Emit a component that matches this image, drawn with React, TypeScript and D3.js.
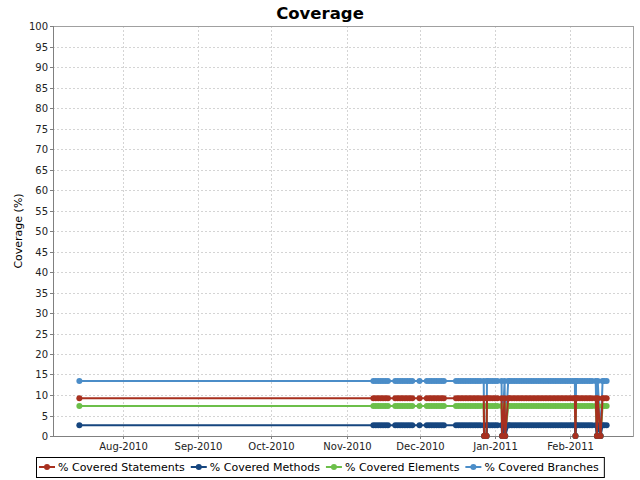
import React, { useEffect, useRef } from 'react';
import * as d3 from 'd3';

// build timestamps: one early build, then near-daily builds from mid November
const buildDates = [
  "2010-07-14",
  "2010-11-12", "2010-11-13", "2010-11-14", "2010-11-15", "2010-11-16", "2010-11-17", "2010-11-18", "2010-11-21", "2010-11-22", "2010-11-23", "2010-11-24", "2010-11-25", "2010-11-26", "2010-11-27", "2010-11-28",
  "2010-12-01", "2010-12-04", "2010-12-05", "2010-12-06", "2010-12-07", "2010-12-08", "2010-12-09", "2010-12-10", "2010-12-11",
  "2010-12-16", "2010-12-17", "2010-12-18", "2010-12-19", "2010-12-20", "2010-12-21", "2010-12-22", "2010-12-23", "2010-12-24", "2010-12-25", "2010-12-26",
  "2010-12-27T10:00", "2010-12-27T14:00", "2010-12-28T14:00", "2010-12-28T18:00", "2010-12-29", "2010-12-30", "2010-12-31",
  "2011-01-01", "2011-01-02", "2011-01-03T18:00", "2011-01-04T00:00", "2011-01-05T00:00", "2011-01-05T06:00", "2011-01-06T12:00",
  "2011-01-07", "2011-01-08", "2011-01-09", "2011-01-10", "2011-01-11", "2011-01-12", "2011-01-13", "2011-01-14", "2011-01-15", "2011-01-16", "2011-01-17", "2011-01-18", "2011-01-19",
  "2011-01-20", "2011-01-21", "2011-01-22", "2011-01-23", "2011-01-24", "2011-01-25", "2011-01-26", "2011-01-27", "2011-01-28", "2011-01-29", "2011-01-30", "2011-01-31",
  "2011-02-01", "2011-02-02", "2011-02-02T22:00", "2011-02-03T04:00", "2011-02-03T10:00",
  "2011-02-04", "2011-02-05", "2011-02-06", "2011-02-07", "2011-02-08", "2011-02-09", "2011-02-10",
  "2011-02-11T12:00", "2011-02-12T00:00", "2011-02-12T08:00", "2011-02-13T12:00", "2011-02-14T08:00", "2011-02-15", "2011-02-16",
];

const statements = [
  9.2,
  9.2, 9.2, 9.2, 9.2, 9.2, 9.2, 9.2, 9.2, 9.2, 9.2, 9.2, 9.2, 9.2, 9.2, 9.2,
  9.2, 9.2, 9.2, 9.2, 9.2, 9.2, 9.2, 9.2, 9.2,
  9.2, 9.2, 9.2, 9.2, 9.2, 9.2, 9.2, 9.2, 9.2, 9.2, 9.2,
  9.2, 0, 0, 9.2, 9.2, 9.2, 9.2,
  9.2, 9.2, 9.2, 0, 9.2, 0, 9.2,
  9.2, 9.2, 9.2, 9.2, 9.2, 9.2, 9.2, 9.2, 9.2, 9.2, 9.2, 9.2, 9.2,
  9.2, 9.2, 9.2, 9.2, 9.2, 9.2, 9.2, 9.2, 9.2, 9.2, 9.2, 9.2,
  9.2, 9.2, 9.2, 0, 9.2,
  9.2, 9.2, 9.2, 9.2, 9.2, 9.2, 9.2,
  9.2, 0, 9.2, 0, 9.2, 9.2, 9.2,
];

const methods = [
  2.6,
  2.6, 2.6, 2.6, 2.6, 2.6, 2.6, 2.6, 2.6, 2.6, 2.6, 2.6, 2.6, 2.6, 2.6, 2.6,
  2.6, 2.6, 2.6, 2.6, 2.6, 2.6, 2.6, 2.6, 2.6,
  2.6, 2.6, 2.6, 2.6, 2.6, 2.6, 2.6, 2.6, 2.6, 2.6, 2.6,
  2.6, 0, 0, 2.6, 2.6, 2.6, 2.6,
  2.6, 2.6, 2.6, 0, 2.6, 0, 2.6,
  2.6, 2.6, 2.6, 2.6, 2.6, 2.6, 2.6, 2.6, 2.6, 2.6, 2.6, 2.6, 2.6,
  2.6, 2.6, 2.6, 2.6, 2.6, 2.6, 2.6, 2.6, 2.6, 2.6, 2.6, 2.6,
  2.6, 2.6, 2.6, 0, 2.6,
  2.6, 2.6, 2.6, 2.6, 2.6, 2.6, 2.6,
  2.6, 0, 2.6, 0, 2.6, 2.6, 2.6,
];

const elements = [
  7.3,
  7.3, 7.3, 7.3, 7.3, 7.3, 7.3, 7.3, 7.3, 7.3, 7.3, 7.3, 7.3, 7.3, 7.3, 7.3,
  7.3, 7.3, 7.3, 7.3, 7.3, 7.3, 7.3, 7.3, 7.3,
  7.3, 7.3, 7.3, 7.3, 7.3, 7.3, 7.3, 7.3, 7.3, 7.3, 7.3,
  7.3, 0, 0, 7.3, 7.3, 7.3, 7.3,
  7.3, 7.3, 7.3, 0, 7.3, 0, 7.3,
  7.3, 7.3, 7.3, 7.3, 7.3, 7.3, 7.3, 7.3, 7.3, 7.3, 7.3, 7.3, 7.3,
  7.3, 7.3, 7.3, 7.3, 7.3, 7.3, 7.3, 7.3, 7.3, 7.3, 7.3, 7.3,
  7.3, 7.3, 7.3, 0, 7.3,
  7.3, 7.3, 7.3, 7.3, 7.3, 7.3, 7.3,
  7.3, 0, 7.3, 0, 7.3, 7.3, 7.3,
];

const branches = [
  13.4,
  13.4, 13.4, 13.4, 13.4, 13.4, 13.4, 13.4, 13.4, 13.4, 13.4, 13.4, 13.4, 13.4, 13.4, 13.4,
  13.4, 13.4, 13.4, 13.4, 13.4, 13.4, 13.4, 13.4, 13.4,
  13.4, 13.4, 13.4, 13.4, 13.4, 13.4, 13.4, 13.4, 13.4, 13.4, 13.4,
  13.4, 0, 0, 13.4, 13.4, 13.4, 13.4,
  13.4, 13.4, 13.4, 0, 13.4, 0, 13.4,
  13.4, 13.4, 13.4, 13.4, 13.4, 13.4, 13.4, 13.4, 13.4, 13.4, 13.4, 13.4, 13.4,
  13.4, 13.4, 13.4, 13.4, 13.4, 13.4, 13.4, 13.4, 13.4, 13.4, 13.4, 13.4,
  13.4, 13.4, 13.4, 0, 13.4,
  13.4, 13.4, 13.4, 13.4, 13.4, 13.4, 13.4,
  13.4, 0, 13.4, 0, 13.4, 13.4, 13.4,
];

const seriesNames = ["% Covered Statements", "% Covered Methods", "% Covered Elements", "% Covered Branches"];
const seriesValues = [statements, methods, elements, branches];
const seriesColors = ["#a8301f", "#16467f", "#6cbf4a", "#4b8dc8"];

const yTicks = d3.range(0, 101, 5);

const W = 640;
const H = 480;
const FONT = "DejaVu Sans, sans-serif";

const parseLong = d3.timeParse("%Y-%m-%dT%H:%M");
const parseShort = d3.timeParse("%Y-%m-%d");
const parseDate = (s: string) => (parseLong(s) ?? parseShort(s)) as Date;

const App: React.FC = () => {
  const svgRef = useRef<SVGSVGElement>(null);

  useEffect(() => {
    if (!svgRef.current) return;
    const svg = d3.select(svgRef.current);
    svg.selectAll("*").remove();

    const plot = { left: 53, right: 633, top: 26, bottom: 436 };
    const dates = buildDates.map(parseDate);

    // auto range with a 5% margin each side
    const [d0, d1] = d3.extent(dates) as [Date, Date];
    const pad = (d1.getTime() - d0.getTime()) * 0.05;
    const x = d3.scaleTime()
      .domain([new Date(d0.getTime() - pad), new Date(d1.getTime() + pad)])
      .range([plot.left, plot.right]);
    const y = d3.scaleLinear().domain([0, 100]).range([plot.bottom, plot.top]);

    svg.append("rect").attr("width", W).attr("height", H).attr("fill", "#ffffff");

    // title
    svg.append("text")
      .attr("x", W / 2).attr("y", 19)
      .attr("text-anchor", "middle")
      .attr("font-family", FONT)
      .attr("font-weight", "bold")
      .attr("font-size", "16.5px")
      .attr("fill", "#000")
      .text("Coverage");

    const monthTicks = x.ticks(d3.timeMonth.every(1) as d3.TimeInterval);

    // grid
    const grid = svg.append("g")
      .attr("stroke", "#d4d4d4")
      .attr("stroke-width", 1)
      .attr("stroke-dasharray", "2,2");
    grid.selectAll("line.h")
      .data(yTicks.filter(t => t > 0 && t < 100))
      .join("line")
      .attr("x1", plot.left).attr("x2", plot.right)
      .attr("y1", d => Math.round(y(d)) + 0.5).attr("y2", d => Math.round(y(d)) + 0.5);
    grid.selectAll("line.v")
      .data(monthTicks)
      .join("line")
      .attr("y1", plot.top).attr("y2", plot.bottom)
      .attr("x1", d => Math.round(x(d)) + 0.5).attr("x2", d => Math.round(x(d)) + 0.5);

    // outline
    svg.append("rect")
      .attr("x", plot.left + 0.5).attr("y", plot.top + 0.5)
      .attr("width", plot.right - plot.left).attr("height", plot.bottom - plot.top)
      .attr("fill", "none")
      .attr("stroke", "#a0a0a0");

    // y axis
    const yAxis = svg.append("g");
    yAxis.append("line")
      .attr("x1", plot.left + 0.5).attr("x2", plot.left + 0.5)
      .attr("y1", plot.top).attr("y2", plot.bottom)
      .attr("stroke", "#808080");
    const yt = yAxis.selectAll("g").data(yTicks).join("g")
      .attr("transform", d => `translate(0,${Math.round(y(d)) + 0.5})`);
    yt.append("line")
      .attr("x1", plot.left - 3).attr("x2", plot.left)
      .attr("stroke", "#808080");
    yt.append("text")
      .attr("x", plot.left - 5)
      .attr("dy", "0.35em")
      .attr("text-anchor", "end")
      .attr("font-family", FONT)
      .attr("font-size", "10px")
      .attr("fill", "#222")
      .text(d => String(d));

    svg.append("text")
      .attr("transform", `translate(18,${(plot.top + plot.bottom) / 2}) rotate(-90)`)
      .attr("text-anchor", "middle")
      .attr("dominant-baseline", "central")
      .attr("font-family", FONT)
      .attr("font-size", "11px")
      .attr("fill", "#000")
      .text("Coverage (%)");

    // x axis
    const xAxis = svg.append("g");
    xAxis.append("line")
      .attr("x1", plot.left).attr("x2", plot.right)
      .attr("y1", plot.bottom + 0.5).attr("y2", plot.bottom + 0.5)
      .attr("stroke", "#808080");
    const xt = xAxis.selectAll("g").data(monthTicks).join("g")
      .attr("transform", d => `translate(${Math.round(x(d)) + 0.5},0)`);
    xt.append("line")
      .attr("y1", plot.bottom).attr("y2", plot.bottom + 3)
      .attr("stroke", "#808080");
    xt.append("text")
      .attr("y", 450)
      .attr("text-anchor", "middle")
      .attr("font-family", FONT)
      .attr("font-size", "10px")
      .attr("fill", "#222")
      .text(d => d3.timeFormat("%b-%Y")(d));

    // series, drawn in reverse order so the first series ends up on top
    svg.append("clipPath").attr("id", "plot-clip").append("rect")
      .attr("x", plot.left).attr("y", plot.top - 4)
      .attr("width", plot.right - plot.left).attr("height", plot.bottom - plot.top + 8);
    const seriesLayer = svg.append("g").attr("clip-path", "url(#plot-clip)");

    const line = d3.line<number>()
      .x((_, i) => x(dates[i]))
      .y(v => y(v));

    for (let s = seriesValues.length - 1; s >= 0; s--) {
      const vals = seriesValues[s];
      const g = seriesLayer.append("g");
      g.append("path")
        .datum(vals)
        .attr("d", line)
        .attr("fill", "none")
        .attr("stroke", seriesColors[s])
        .attr("stroke-width", 2);
      g.selectAll("circle").data(vals).join("circle")
        .attr("cx", (_, i) => x(dates[i]))
        .attr("cy", v => y(v))
        .attr("r", 3)
        .attr("fill", seriesColors[s]);
    }

    // legend
    const legend = svg.append("g");
    const box = legend.append("rect")
      .attr("fill", "#fff")
      .attr("stroke", "#000")
      .attr("stroke-width", 1);
    const symW = 16;
    const gap = 3;
    const itemGap = 6;
    const padL = 3;
    const padR = 5;
    const items = seriesNames.map((name, i) => {
      const g = legend.append("g");
      g.append("line")
        .attr("x1", 0).attr("x2", symW)
        .attr("stroke", seriesColors[i]).attr("stroke-width", 2);
      g.append("circle").attr("cx", symW / 2).attr("r", 3).attr("fill", seriesColors[i]);
      const t = g.append("text")
        .attr("x", symW + gap)
        .attr("dy", "0.35em")
        .attr("font-family", FONT)
        .attr("font-size", "11px")
        .attr("fill", "#000")
        .text(name);
      const tw = (t.node() as SVGTextElement).getComputedTextLength();
      return { g, w: symW + gap + tw };
    });
    const total = padL + padR + d3.sum(items, d => d.w) + itemGap * (items.length - 1);
    const lx = Math.round(W / 2 - total / 2);
    const ly = 467;
    box.attr("x", lx + 0.5).attr("y", 457.5).attr("width", total).attr("height", 20);
    let cx = lx + padL;
    items.forEach(it => {
      it.g.attr("transform", `translate(${cx},${ly})`);
      cx += it.w + itemGap;
    });
  }, []);

  return (
    <svg
      ref={svgRef}
      width={W}
      height={H}
      style={{ position: 'absolute', left: 0, top: 0, display: 'block' }}
    />
  );
};

export default App;
